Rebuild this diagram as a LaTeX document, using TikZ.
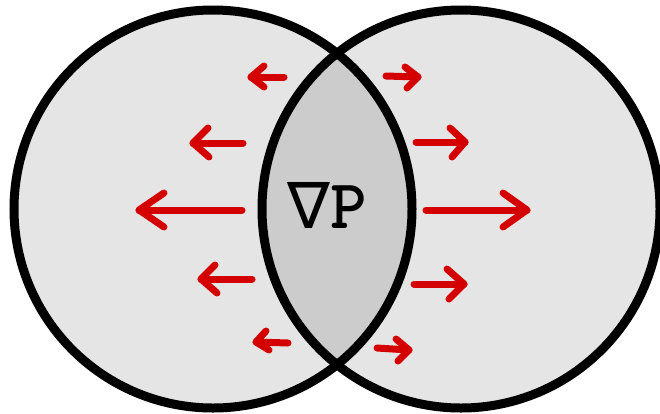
\documentclass[tikz,border=0pt]{standalone}
\usepackage{fontspec}
\newfontfamily\nablafont{DejaVu Sans}
\usetikzlibrary{arrows.meta}
\definecolor{arrred}{HTML}{D40000}
\definecolor{circfill}{HTML}{E5E5E5}
\definecolor{lensfill}{HTML}{CCCCCC}
\begin{document}
\begin{tikzpicture}[x=1pt,y=-1pt,
  redarr/.style={draw=arrred, line width=7pt, line cap=round, line join=round},
  ring/.style={draw=black, line width=9pt}]
\useasboundingbox (0,0) rectangle (660,413);
\coordinate (L) at (213,209);
\coordinate (R) at (461,209);
\fill[circfill] (L) circle[radius=199pt];
\fill[circfill] (R) circle[radius=199pt];
\begin{scope}
  \clip (L) circle[radius=199pt];
  \fill[lensfill] (R) circle[radius=199pt];
\end{scope}
\draw[ring] (L) circle[radius=199pt];
\draw[ring] (R) circle[radius=199pt];
% left arrows
\draw[redarr] (284,77) -- (251,77);
\draw[redarr] (264,66) -- (251,77) -- (264,87);
\draw[redarr] (243,143) -- (193,143);
\draw[redarr] (208,128) -- (193,143) -- (209,157);
\draw[redarr] (242,210) -- (139,210);
\draw[redarr] (164,193) -- (139,210) -- (164,227);
\draw[redarr] (252,279) -- (201,279);
\draw[redarr] (215,265) -- (201,279) -- (217,293);
\draw[redarr] (288,343) -- (256,342);
\draw[redarr] (266,331) -- (256,342) -- (269,350);
% right arrows
\draw[redarr] (386,76) -- (418,77);
\draw[redarr] (405,67) -- (418,77) -- (407,88);
\draw[redarr] (416,142) -- (465,142);
\draw[redarr] (450,128) -- (465,142) -- (452,157);
\draw[redarr] (426,210) -- (527,210);
\draw[redarr] (503,193) -- (527,210) -- (503,227);
\draw[redarr] (414,284) -- (464,284);
\draw[redarr] (447,269) -- (464,284) -- (449,299);
\draw[redarr] (377,348) -- (409,350);
\draw[redarr] (396,339) -- (409,350) -- (398,361);
\node[inner sep=0pt, anchor=base] (grad) at (327,228) {{\nablafont\fontsize{64}{64}\selectfont ∇}{\ttfamily\bfseries\fontsize{70}{70}\selectfont P}};
\end{tikzpicture}
\end{document}
